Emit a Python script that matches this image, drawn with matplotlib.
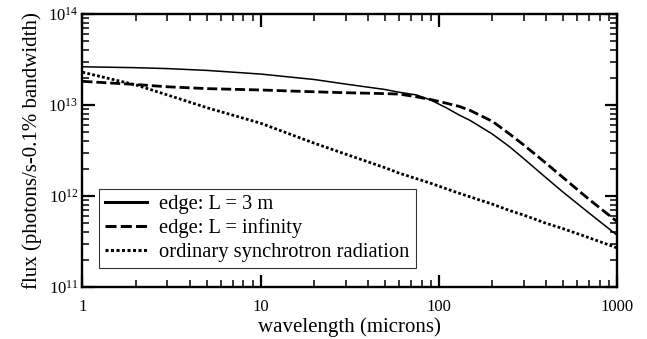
import matplotlib
matplotlib.use("Agg")
import matplotlib.pyplot as plt
from matplotlib.ticker import FuncFormatter, LogLocator, NullFormatter
import numpy as np

plt.rcParams['font.family'] = ['Liberation Serif', 'DejaVu Serif']
plt.rcParams['mathtext.fontset'] = 'custom'
plt.rcParams['mathtext.rm'] = 'Liberation Serif'
plt.rcParams['mathtext.it'] = 'Liberation Serif:italic'

# longitud de onda (micras)
wavelength = [1, 2, 3, 5, 10, 20, 30, 50, 60, 75, 90, 110, 130, 150,
              200, 250, 300, 400, 500, 700, 1000]

# log10 del flujo
log_edge_3m = [13.42, 13.41, 13.40, 13.38, 13.34, 13.28, 13.23, 13.17, 13.14,
               13.11, 13.055, 12.97, 12.89, 12.83, 12.68, 12.54, 12.41, 12.20,
               12.04, 11.81, 11.57]
log_edge_inf = [13.26, 13.225, 13.20, 13.18, 13.165, 13.145, 13.135, 13.125,
                13.12, 13.09, 13.06, 13.02, 12.985, 12.94, 12.82, 12.68, 12.56,
                12.36, 12.20, 11.96, 11.72]
log_ordinary = [13.36, 13.22, 13.11, 12.97, 12.80, 12.58, 12.46, 12.31, 12.25,
                12.19, 12.14, 12.08, 12.03, 11.99, 11.91, 11.84, 11.79, 11.70,
                11.64, 11.54, 11.43]

labels = ["edge: L = 3 m", "edge: L = infinity", "ordinary synchrotron radiation"]

fig = plt.figure(figsize=(6.47, 3.39), dpi=100)
ax = fig.add_axes([0.1275, 0.1534, 0.8261, 0.8053])

ax.plot(wavelength, 10 ** np.array(log_edge_3m), color='black', lw=1.1,
        label=labels[0])
ax.plot(wavelength, 10 ** np.array(log_edge_inf), color='black', lw=2.0,
        dashes=(3.6, 1.4), label=labels[1])
ax.plot(wavelength, 10 ** np.array(log_ordinary), color='black', lw=2.0,
        dashes=(1.0, 0.8), label=labels[2])

ax.set_xscale('log')
ax.set_yscale('log')
ax.set_xlim(1, 1000)
ax.set_ylim(1e11, 1e14)

ax.xaxis.set_major_formatter(FuncFormatter(lambda v, p: f"{v:g}"))
ax.xaxis.set_minor_formatter(NullFormatter())
ax.yaxis.set_minor_locator(LogLocator(base=10, subs=np.arange(2, 10)))
ax.yaxis.set_minor_formatter(NullFormatter())

ax.tick_params(which='both', direction='in', top=True, right=True, color='black')
ax.tick_params(which='major', length=9, width=1.6, labelsize=12)
ax.tick_params(which='minor', length=5, width=1.1)
ax.tick_params(axis='x', which='major', pad=9)
ax.tick_params(axis='y', which='major', pad=3)

for s in ax.spines.values():
    s.set_linewidth(1.7)

ax.set_xlabel("wavelength (microns)", fontsize=15, labelpad=1)
ax.set_ylabel("flux (photons/s-0.1% bandwidth)", fontsize=15, labelpad=4)

leg = ax.legend(loc='lower left', bbox_to_anchor=(0.03, 0.07), fontsize=14.8,
                frameon=True, fancybox=False, edgecolor='black',
                handlelength=2.05, handletextpad=0.6, labelspacing=0.2,
                borderpad=0.3, borderaxespad=0)
leg.get_frame().set_linewidth(0.8)
for ln in leg.get_lines():
    ln.set_linewidth(2.2)

fig.savefig("out.png", dpi=100)
